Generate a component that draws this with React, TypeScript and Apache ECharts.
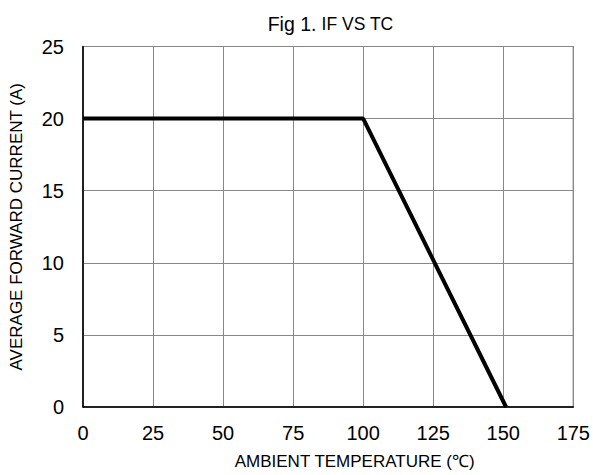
import React, { useEffect, useRef } from "react";
import * as echarts from "echarts";

const temps = [0, 100, 151];
const current = [20, 20, 0];
const titleLead = "Fig 1.";
const titleRest = "IF VS TC";
const xName = "AMBIENT TEMPERATURE (℃)";
const yName = "AVERAGE FORWARD CURRENT (A)";

export default function App() {
  const ref = useRef<HTMLDivElement>(null);
  useEffect(() => {
    const chart = echarts.init(ref.current!, null, { renderer: "svg" });
    const font = "Liberation Sans, Arial, sans-serif";
    chart.setOption({
      animation: false,
      backgroundColor: "#fff",
      title: {
        text: `{a|${titleLead}} {b|${titleRest}}`,
        left: 325.5,
        top: 9,
        textAlign: "center",
        textStyle: {
          fontFamily: font,
          fontWeight: "normal",
          color: "#000",
          rich: {
            a: { fontFamily: font, fontSize: 19.5, color: "#000" },
            b: { fontFamily: font, fontSize: 17.5, color: "#000" },
          },
        },
      },
      grid: {
        left: 82.5,
        right: 18,
        top: 46.5,
        bottom: 64.5,
        show: true,
        borderColor: "#000",
        borderWidth: 1,
      },
      xAxis: {
        type: "value",
        min: 0,
        max: 175,
        interval: 25,
        name: xName,
        nameLocation: "middle",
        nameGap: 46,
        nameTextStyle: { fontFamily: font, fontSize: 17, color: "#000", padding: [0, 0, 0, 53] },
        axisLine: { show: true, lineStyle: { color: "#000", width: 1.5 } },
        axisTick: { show: false },
        axisLabel: { fontFamily: font, fontSize: 20, color: "#000", margin: 16 },
        splitLine: { show: true, lineStyle: { color: "#888", width: 1 } },
      },
      yAxis: {
        type: "value",
        min: 0,
        max: 25,
        interval: 5,
        name: yName,
        nameLocation: "middle",
        nameGap: 58,
        nameRotate: 90,
        nameTextStyle: { fontFamily: font, fontSize: 17, color: "#000" },
        axisLine: { show: true, lineStyle: { color: "#000", width: 1.5 } },
        axisTick: { show: false },
        axisLabel: { fontFamily: font, fontSize: 20, color: "#000", margin: 19 },
        splitLine: { show: true, lineStyle: { color: "#888", width: 1 } },
      },
      series: [
        {
          type: "line",
          data: temps.map((t, i) => [t, current[i]]),
          symbol: "none",
          lineStyle: { color: "#000", width: 4 },
        },
      ],
    });
    return () => chart.dispose();
  }, []);
  return <div ref={ref} style={{ width: 593, height: 475, position: "absolute", left: 0, top: 0 }} />;
}
